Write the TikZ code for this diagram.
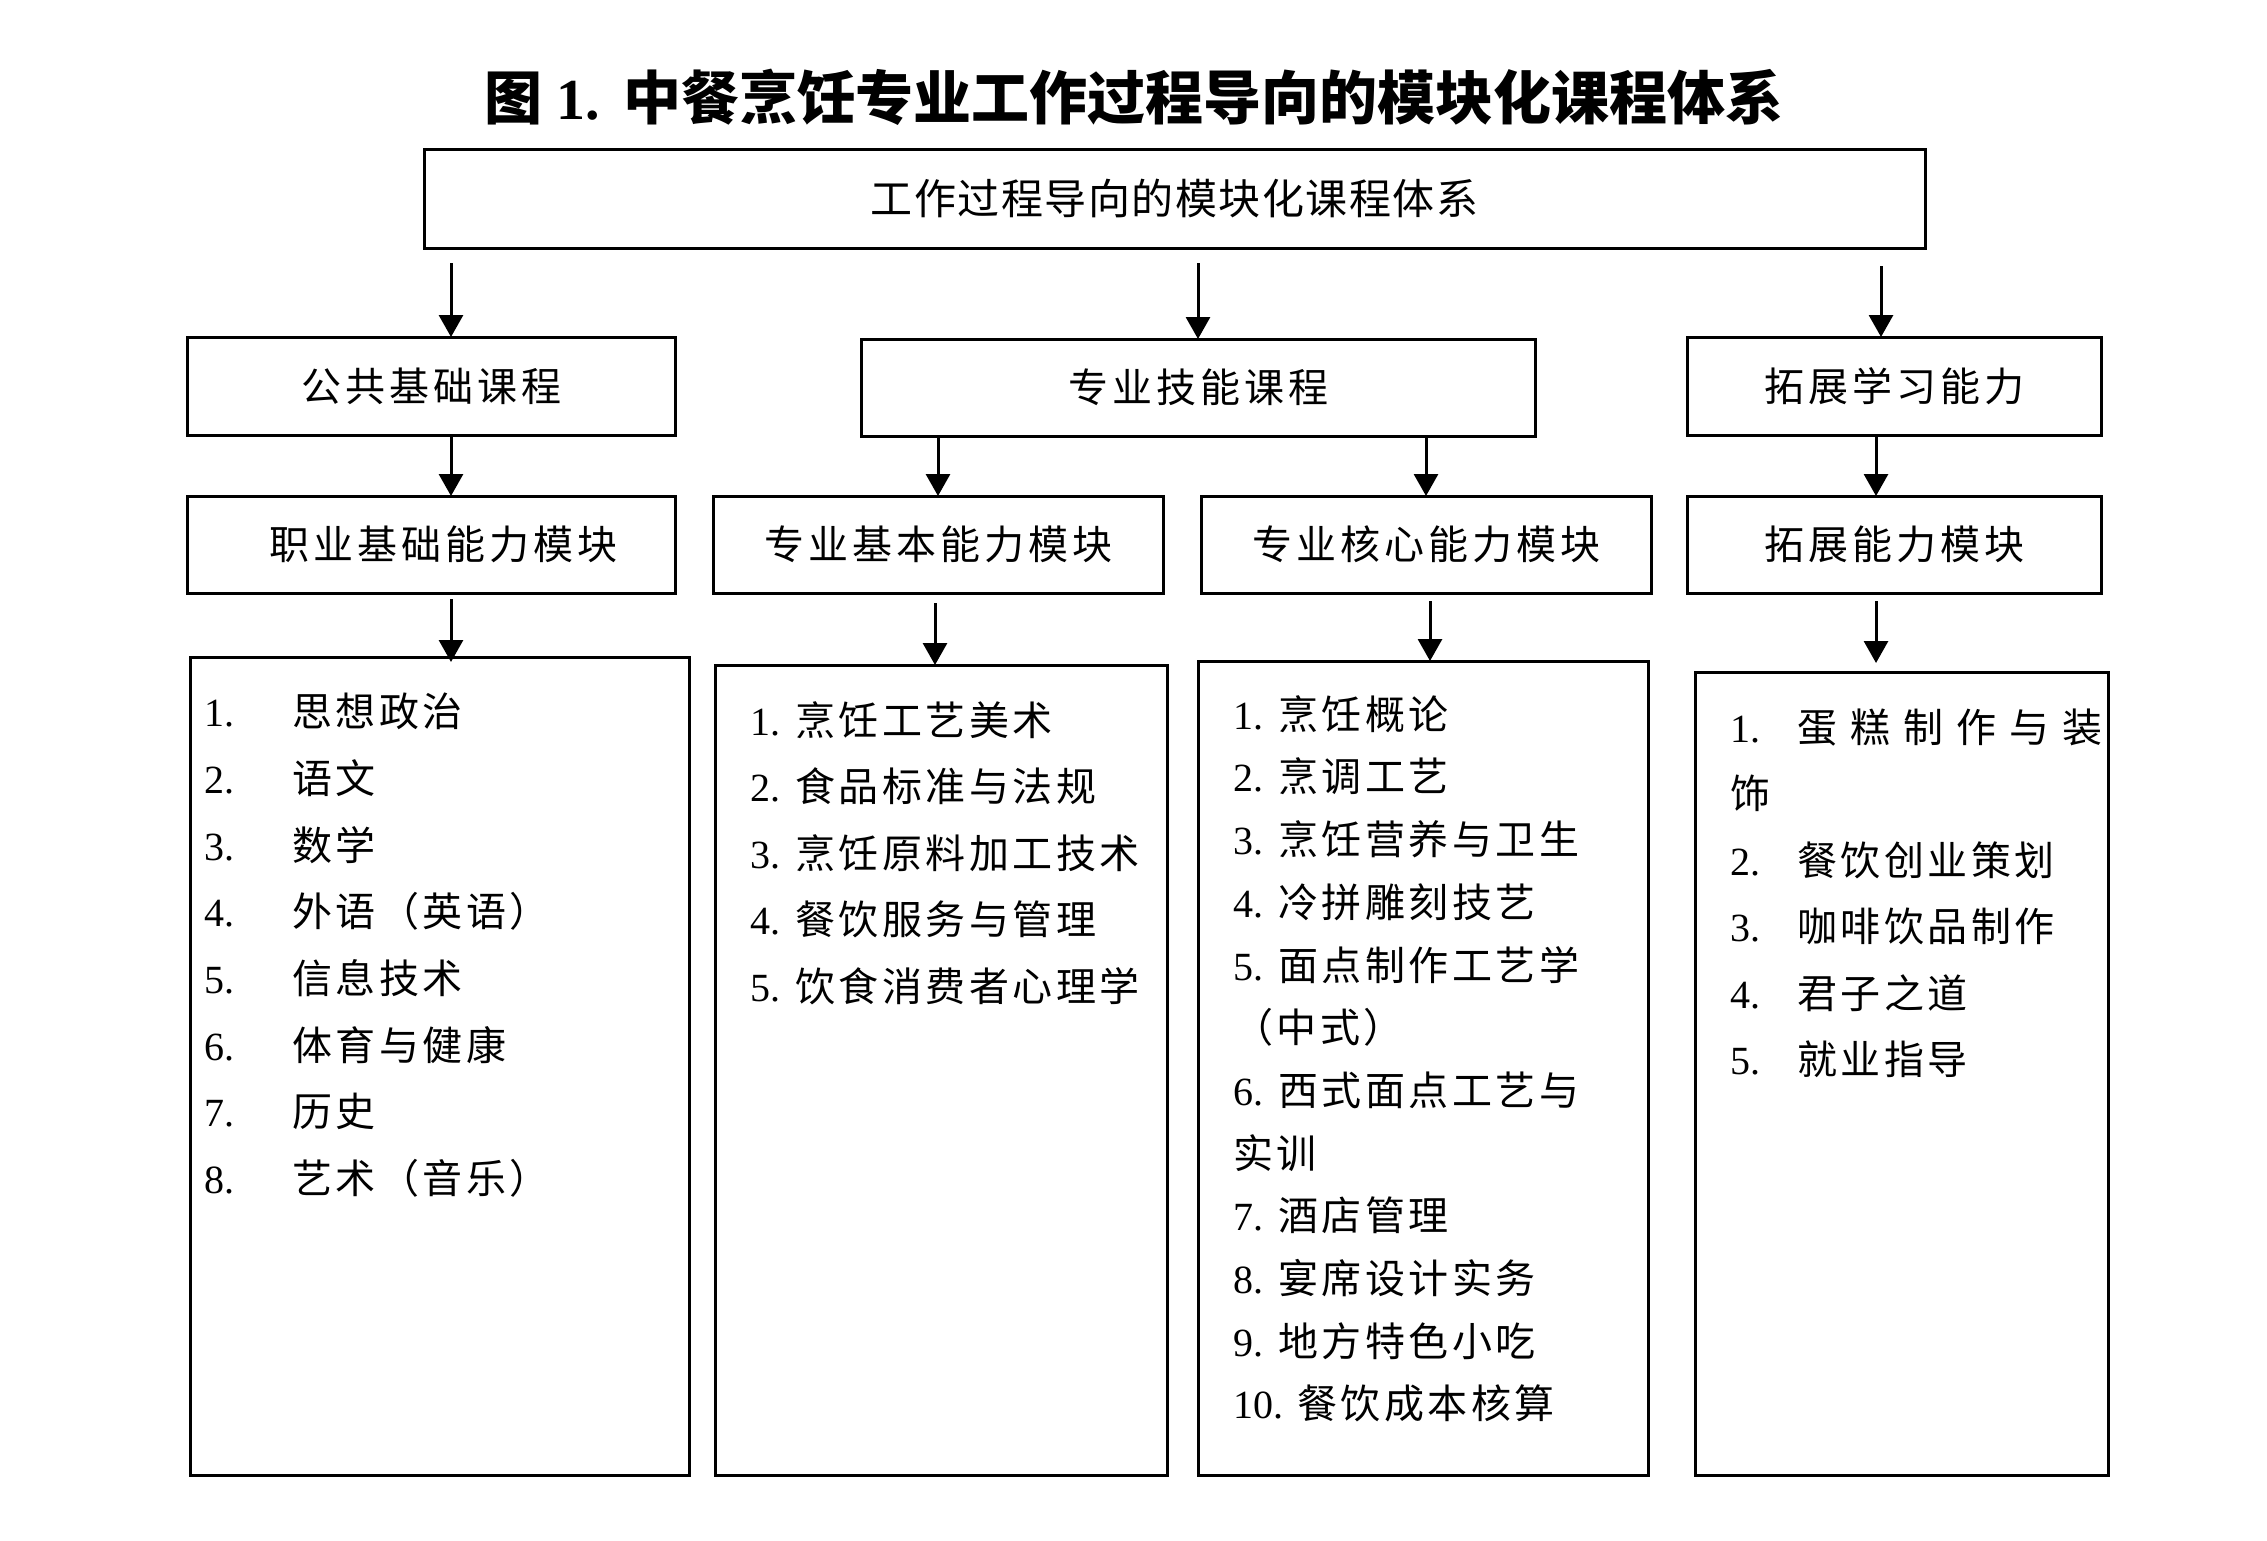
\documentclass[tikz,border=0pt]{standalone}
\usepackage{fontspec}
\setmainfont{Liberation Serif}
\newfontfamily\cjk{Noto Sans CJK SC}
\newfontfamily\cjkRow[LetterSpace=10]{Noto Sans CJK SC}
\newfontfamily\cjkL[LetterSpace=8.75]{Noto Sans CJK SC}
\newfontfamily\cjkW[LetterSpace=32.5]{Noto Sans CJK SC}
\newfontfamily\dig{Liberation Serif}
\usetikzlibrary{arrows.meta,calc}
\makeatletter
\newcommand\spacedtext[2]{\def\sp@amt{#1}\@tfor\sp@c:=#2\do{\sp@c\hspace{\sp@amt}}\hspace{-\sp@amt}}
\makeatother
\begin{document}
\begin{tikzpicture}[x=1pt,y=-1pt,
  box/.style={draw, line width=3pt, inner sep=0pt, outer sep=0pt, align=center},
  rowtext/.style={font=\fontsize{40}{48}\selectfont\cjkRow},
  arr/.style={line width=3pt, -{Triangle[length=22pt,width=24pt]}},
  listtext/.style={anchor=north west, inner sep=0pt, align=left},
  lst/.style={listtext, font=\fontsize{40}{66.7}\selectfont\cjkL}]
\fill[white] (0,0) rectangle (2267,1540);
\useasboundingbox (0,0) rectangle (2267,1540);

% title
\node[anchor=base, inner sep=0pt, font=\fontsize{58}{60}\selectfont] (title) at (1134,119)
  {{\cjk\bfseries 图}\hspace{14pt}{\dig\bfseries 1.}\hspace{24pt}{\cjk\bfseries 中餐烹饪专业工作过程导向的模块化课程体系}};

% top box
\node[box, minimum width=1501pt, minimum height=99pt, font=\fontsize{42}{48}\selectfont\cjk] (top) at (1174.5,198.5) {\spacedtext{1.5pt}{工作过程导向的模块化课程体系}};

% row 1
\node[box, rowtext, minimum width=488pt, minimum height=98pt] (B1) at (431,386) {公共基础课程};
\node[box, rowtext, minimum width=674pt, minimum height=97pt] (B2) at (1198,387.5) {专业技能课程};
\node[box, rowtext, minimum width=414pt, minimum height=98pt] (B3) at (1894,386) {拓展学习能力};

% row 2
\node[box, rowtext, minimum width=488pt, minimum height=97pt] (C1) at (431,544.5) {\hspace*{24pt}职业基础能力模块};
\node[box, rowtext, minimum width=450pt, minimum height=97pt] (C2) at (938,544.5) {专业基本能力模块};
\node[box, rowtext, minimum width=450pt, minimum height=97pt] (C3) at (1426,544.5) {专业核心能力模块};
\node[box, rowtext, minimum width=414pt, minimum height=97pt] (C4) at (1894,544.5) {拓展能力模块};

% row 3 boxes
\node[box, minimum width=499pt, minimum height=818pt] (D1) at (439.5,1066) {};
\node[box, minimum width=452pt, minimum height=810pt] (D2) at (941,1070) {};
\node[box, minimum width=450pt, minimum height=814pt] (D3) at (1423,1068) {};
\node[box, minimum width=413pt, minimum height=803pt] (D4) at (1901.5,1073.5) {};

% arrows
\draw[arr] ($(B1.north |- top.south)+(20,15)$) -- ($(B1.north)+(20,0)$);
\draw[arr] ($(B2.north |- top.south)+(0,15)$) -- (B2.north);
\draw[arr] ($(B3.north |- top.south)+(-13,18)$) -- ($(B3.north)+(-13,0)$);

\draw[arr] ($(B1.south)+(20,0)$) -- ($(C1.north)+(20,0)$);
\draw[arr] (C2.north |- B2.south) -- (C2.north);
\draw[arr] (C3.north |- B2.south) -- (C3.north);
\draw[arr] ($(B3.south)+(-18,0)$) -- ($(C4.north)+(-18,0)$);

\draw[arr] ($(C1.south)+(20,6)$) -- ($(D1.north -| C1.south)+(20,5)$);
\draw[arr] ($(C2.south)+(-3,10)$) -- ($(D2.north -| C2.south)+(-3,0)$);
\draw[arr] ($(C3.south)+(4,8)$) -- ($(D3.north -| C3.south)+(4,0)$);
\draw[arr] ($(C4.south)+(-18,8)$) -- ($(C4.south |- D4.north)+(-18,-9)$);

% lists
\node[lst] (L1) at (204,691.5) {\rule{0pt}{35pt}\makebox[88pt][l]{\dig 1.}思想政治\\
\makebox[88pt][l]{\dig 2.}语文\\
\makebox[88pt][l]{\dig 3.}数学\\
\makebox[88pt][l]{\dig 4.}外语（英语）\\
\makebox[88pt][l]{\dig 5.}信息技术\\
\makebox[88pt][l]{\dig 6.}体育与健康\\
\makebox[88pt][l]{\dig 7.}历史\\
\makebox[88pt][l]{\dig 8.}艺术（音乐）};

\node[listtext, font=\fontsize{40}{66.5}\selectfont\cjkL] (L2) at (750,700) {\rule{0pt}{35pt}\makebox[45pt][l]{\dig 1.}烹饪工艺美术\\
\makebox[45pt][l]{\dig 2.}食品标准与法规\\
\makebox[45pt][l]{\dig 3.}烹饪原料加工技术\\
\makebox[45pt][l]{\dig 4.}餐饮服务与管理\\
\makebox[45pt][l]{\dig 5.}饮食消费者心理学};

\node[listtext, font=\fontsize{40}{62.7}\selectfont\cjkL] (L3) at (1233,694) {\rule{0pt}{35pt}\makebox[45pt][l]{\dig 1.}烹饪概论\\
\makebox[45pt][l]{\dig 2.}烹调工艺\\
\makebox[45pt][l]{\dig 3.}烹饪营养与卫生\\
\makebox[45pt][l]{\dig 4.}冷拼雕刻技艺\\
\makebox[45pt][l]{\dig 5.}面点制作工艺学\\
（中式）\\
\makebox[45pt][l]{\dig 6.}西式面点工艺与\\
实训\\
\makebox[45pt][l]{\dig 7.}酒店管理\\
\makebox[45pt][l]{\dig 8.}宴席设计实务\\
\makebox[45pt][l]{\dig 9.}地方特色小吃\\
\makebox[64pt][l]{\dig 10.}餐饮成本核算};

\node[listtext, font=\fontsize{40}{66.5}\selectfont\cjkL] (L4) at (1730,707) {\rule{0pt}{35pt}\makebox[67pt][l]{\dig 1.}{\cjkW 蛋糕制作与装}\\
饰\\
\makebox[67pt][l]{\dig 2.}餐饮创业策划\\
\makebox[67pt][l]{\dig 3.}咖啡饮品制作\\
\makebox[67pt][l]{\dig 4.}君子之道\\
\makebox[67pt][l]{\dig 5.}就业指导};
\end{tikzpicture}
\end{document}
